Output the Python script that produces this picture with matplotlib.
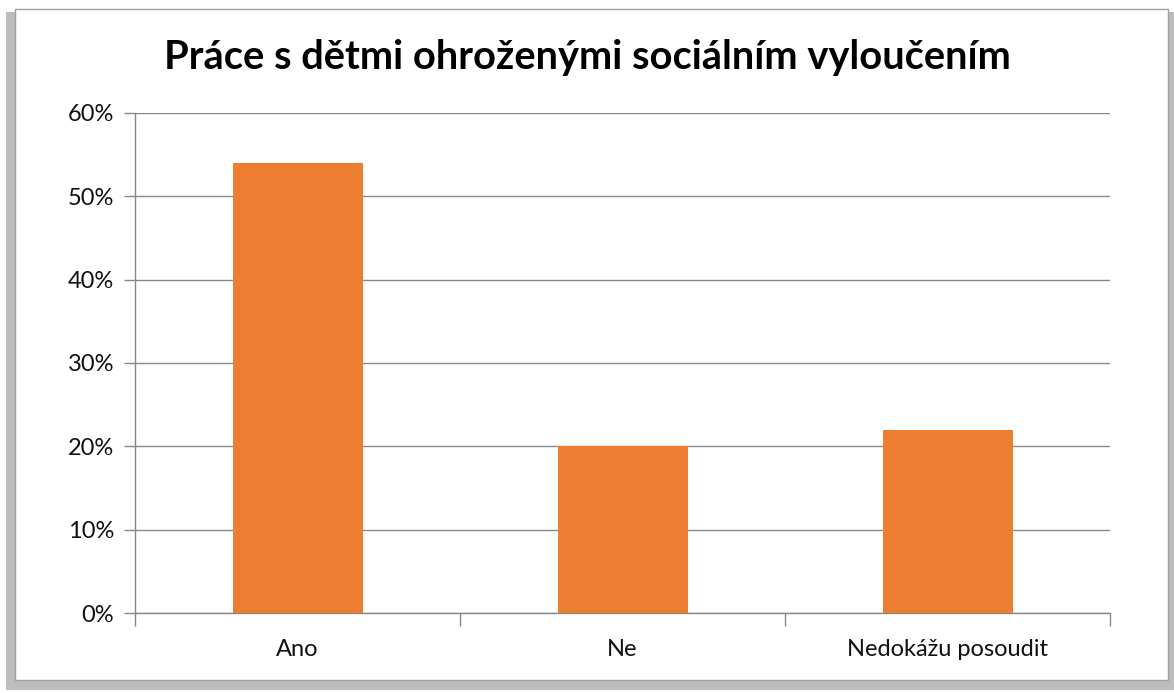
import matplotlib
matplotlib.use("Agg")
import matplotlib.pyplot as plt
from matplotlib.patches import Rectangle
from matplotlib.ticker import FixedLocator, PercentFormatter

categories = ["Ano", "Ne", "Nedokážu posoudit"]
values = [54, 20, 22]
yticks = [0, 10, 20, 30, 40, 50, 60]
title = "Práce s dětmi ohroženými sociálním vyloučením"

plt.rcParams['font.family'] = ['Lato', 'DejaVu Sans']

W, H = 1174, 693
fig = plt.figure(figsize=(W / 100, H / 100), dpi=100)
fig.patch.set_facecolor('white')

# shadow and frame
fig.patches.append(Rectangle((6 / W, 1 - 690 / H), (1174 - 6) / W, (690 - 12) / H,
                             transform=fig.transFigure, facecolor='#bdbdbd',
                             edgecolor='none', zorder=-3))
fig.patches.append(Rectangle((15 / W, 1 - 680 / H), (1168 - 15) / W, (680 - 9) / H,
                             transform=fig.transFigure, facecolor='white',
                             edgecolor='#a0a0a0', linewidth=1, zorder=-2))

ax = fig.add_axes([135 / W, 1 - 613 / H, (1110 - 135) / W, (613 - 113) / H])
ax.set_zorder(1)
ax.set_facecolor('none')
x = list(range(len(categories)))
ax.bar(x, values, width=0.4, color='#ED7D31', zorder=3)

ax.set_xlim(-0.5, len(categories) - 0.5)
ax.set_ylim(0, 60)
ax.set_yticks(yticks)
ax.yaxis.set_major_formatter(PercentFormatter(decimals=0))
ax.set_xticks(x)
ax.set_xticklabels(categories)
ax.xaxis.set_minor_locator(FixedLocator([-0.5 + i for i in range(len(categories) + 1)]))
ax.tick_params(axis='x', which='major', length=0, pad=19, labelsize=17, labelcolor='#111111')
ax.tick_params(axis='x', which='minor', length=9, color='#888888', width=1)
ax.tick_params(axis='y', length=8, color='#888888', width=1, pad=7, labelsize=17, labelcolor='#111111')

ax.grid(axis='y', color='#888888', linewidth=1, zorder=0)
for s in ['top', 'right']:
    ax.spines[s].set_visible(False)
for s in ['left', 'bottom']:
    ax.spines[s].set_color('#888888')
    ax.spines[s].set_linewidth(1)

fig.text(0.5, 1 - 58 / H, title, ha='center', va='center', fontsize=28.7,
         fontweight='bold', color='black')

fig.savefig('out.png', dpi=100)
